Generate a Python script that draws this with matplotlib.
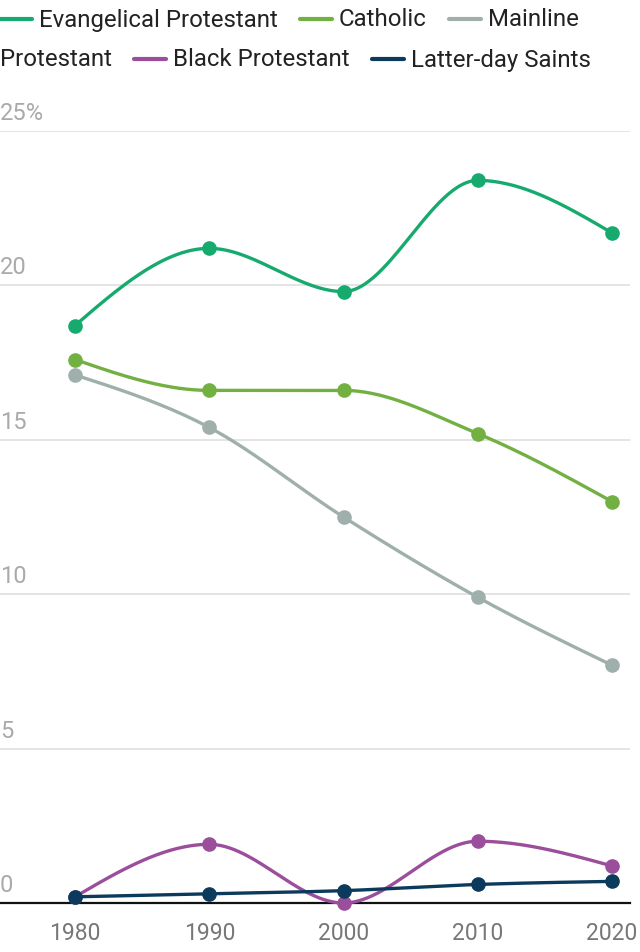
import numpy as np
import matplotlib
matplotlib.use("Agg")
import matplotlib.pyplot as plt
from matplotlib.lines import Line2D

plt.rcParams['font.family'] = ['Roboto', 'DejaVu Sans']

years = [1980, 1990, 2000, 2010, 2020]
series_names = ["Evangelical Protestant", "Catholic", "Mainline Protestant",
                "Black Protestant", "Latter-day Saints"]
evangelical = [18.7, 21.2, 19.8, 23.4, 21.7]
catholic = [17.6, 16.6, 16.6, 15.2, 13.0]
mainline = [17.1, 15.4, 12.5, 9.9, 7.7]
black_protestant = [0.2, 1.9, 0.0, 2.0, 1.2]
latter_day_saints = [0.2, 0.3, 0.4, 0.6, 0.7]
y_ticks = [0, 5, 10, 15, 20, 25]
y_tick_labels = ["0", "5", "10", "15", "20", "25%"]

colors = ["#17aa6e", "#73b042", "#9fb0ac", "#9a4e9b", "#0b3a5c"]
values = [evangelical, catholic, mainline, black_protestant, latter_day_saints]


def monotone_curve(x, y, n=60):
    x = np.asarray(x, float); y = np.asarray(y, float)
    h = np.diff(x); s = np.diff(y) / h
    m = np.zeros_like(y)
    for i in range(1, len(x) - 1):
        p = (s[i - 1] * h[i] + s[i] * h[i - 1]) / (h[i - 1] + h[i])
        m[i] = (np.sign(s[i - 1]) + np.sign(s[i])) * min(abs(s[i - 1]), abs(s[i]), 0.5 * abs(p))
    m[0] = (3 * s[0] - m[1]) / 2
    m[-1] = (3 * s[-1] - m[-2]) / 2
    xs, ys = [], []
    for i in range(len(x) - 1):
        t = np.linspace(0, 1, n)
        h00 = 2 * t**3 - 3 * t**2 + 1
        h10 = t**3 - 2 * t**2 + t
        h01 = -2 * t**3 + 3 * t**2
        h11 = t**3 - t**2
        xs.append(x[i] + t * h[i])
        ys.append(h00 * y[i] + h10 * h[i] * m[i] + h01 * y[i + 1] + h11 * h[i] * m[i + 1])
    return np.concatenate(xs), np.concatenate(ys)


W, H = 640, 953
fig = plt.figure(figsize=(W / 100, H / 100), dpi=100)
ax = fig.add_axes([0, (H - 904) / H, 630 / W, (904 - 132) / H])
ax.set_xlim(1980 - 75 / 13.425, 2020 + 18 / 13.425)
ax.set_ylim(0, 25)
for sp in ax.spines.values():
    sp.set_visible(False)
ax.set_xticks(years)
ax.set_xticklabels([str(y) for y in years])
ax.tick_params(axis='x', length=0, pad=13, labelsize=16.5, labelcolor="#777777")
ax.set_yticks([])

for yt, lab in zip(y_ticks, y_tick_labels):
    if yt == 0:
        ax.axhline(0, color="#111111", lw=1.6, zorder=2, clip_on=False)
    else:
        ax.axhline(yt, color="#e2e2e2", lw=1.3, zorder=1)
    ax.annotate(lab, (0, yt), xycoords=('axes fraction', 'data'),
                xytext=(0, 5), textcoords='offset points', ha='left', va='bottom',
                fontsize=17, color="#aaaaaa")

for i, (vals, c) in enumerate(zip(values, colors)):
    xs, ys = monotone_curve(years, vals)
    ax.plot(xs, ys, color=c, lw=2.4, zorder=3 + i, clip_on=False, solid_capstyle='round')
    ax.plot(years, vals, 'o', color=c, ms=9.5, zorder=3 + i, clip_on=False)

# Legend with flow layout
fig.canvas.draw()
r = fig.canvas.get_renderer()
fs = 17.3
line_len, gap_lt, gap_item = 32, 7, 22
rows_y = [H - 20, H - 60]
x = 0
row = 0
legend_words = {"Mainline Protestant": ["Mainline", "Protestant"]}
for name, c in zip(series_names, colors):
    fig.add_artist(Line2D([x / W, (x + line_len) / W], [rows_y[row] / H] * 2,
                          color=c, lw=3, solid_capstyle='round'))
    x += line_len + gap_lt
    parts = legend_words.get(name, [name])
    for j, part in enumerate(parts):
        t = fig.text(x / W, rows_y[row] / H, part, fontsize=fs, color="#222222",
                     ha='left', va='center')
        w = t.get_window_extent(r).width
        if j < len(parts) - 1:
            row += 1
            x = 0
        else:
            x += w + gap_item

fig.savefig("out.png", dpi=100)
